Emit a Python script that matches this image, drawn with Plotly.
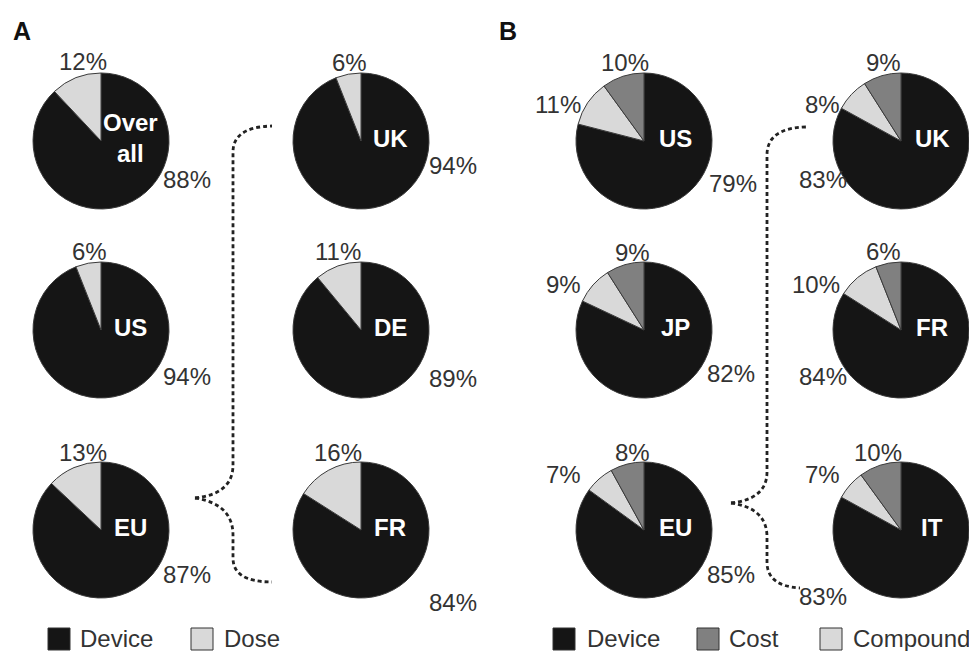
import plotly.graph_objects as go

W, H = 969, 651
R = 68

# ---------------- data ----------------
a_regions = ["Over<br>all", "US", "EU", "UK", "DE", "FR"]
a_device = [88, 94, 87, 94, 89, 84]
a_dose = [12, 6, 13, 6, 11, 16]

b_regions = ["US", "JP", "EU", "UK", "FR", "IT"]
b_device = [79, 82, 85, 83, 84, 83]
b_compound = [11, 9, 7, 8, 10, 7]
b_cost = [10, 9, 8, 9, 6, 10]

a_legend = ["Device", "Dose"]
b_legend = ["Device", "Cost", "Compound"]

# ---------------- styles / layout positions ----------------
colors = {"Device": "#151515", "Dose": "#d9d9d9", "Cost": "#808080", "Compound": "#d9d9d9"}
FONT = "Arial, Liberation Sans, sans-serif"
TXT = "#333333"

a_centers = [(101, 141), (101, 330), (101, 530), (361, 141), (361, 330), (361, 530)]
b_centers = [(644, 141), (644, 330), (644, 530), (901, 141), (901, 330), (901, 530)]

a_minor_off = [(-18, -80), (-12, -79), (-18, -78), (-12, -79), (-23, -79), (-23, -78)]
a_dev_off = [(86, 38), (86, 46), (86, 44), (92, 24), (92, 48), (92, 72)]

b_cost_off = [(-19, -79), (-12, -78), (-12, -78), (-18, -79), (-18, -79), (-23, -78)]
b_comp_off = [(-86, -37), (-81, -46), (-81, -56), (-79, -37), (-85, -46), (-79, -56)]
b_dev_off = [(89, 42), (87, 43), (87, 44), (-78, 38), (-78, 46), (-78, 66)]

a_legend_pos = [(48, 78), (191, 222)]
b_legend_pos = [(553, 585), (697, 727), (820, 851)]
LEG_Y = 638
SQ = 22


def dom(cx, cy):
    return dict(x=[max(0, (cx - R) / W), min(1, (cx + R) / W)],
                y=[max(0, 1 - (cy + R) / H), min(1, 1 - (cy - R) / H)])


fig = go.Figure()
# dummy cartesian trace so pixel-based axes exist for shapes/annotations
fig.add_trace(go.Scatter(x=[None], y=[None], showlegend=False, hoverinfo="skip"))

annotations = []


def ann(x, y, text, size=24, color=TXT, xanchor="center", bold=False):
    annotations.append(dict(x=x, y=y, xref="x", yref="y", text=f"<b>{text}</b>" if bold else text,
                            showarrow=False, xanchor=xanchor, yanchor="middle",
                            font=dict(family=FONT, size=size, color=color)))


line = dict(color="#3a3a3a", width=1)

for i, (cx, cy) in enumerate(a_centers):
    fig.add_trace(go.Pie(values=[a_device[i], a_dose[i]], labels=["Device", "Dose"],
                         marker=dict(colors=[colors["Device"], colors["Dose"]], line=line),
                         sort=False, direction="clockwise", textinfo="none",
                         hoverinfo="skip", showlegend=False, domain=dom(cx, cy)))
    ann(cx + 29, cy - 3, a_regions[i], size=24, color="white", bold=True)
    ann(cx + a_minor_off[i][0], cy + a_minor_off[i][1], f"{a_dose[i]}%")
    ann(cx + a_dev_off[i][0], cy + a_dev_off[i][1], f"{a_device[i]}%")

for i, (cx, cy) in enumerate(b_centers):
    fig.add_trace(go.Pie(values=[b_device[i], b_compound[i], b_cost[i]],
                         labels=["Device", "Compound", "Cost"],
                         marker=dict(colors=[colors["Device"], colors["Compound"], colors["Cost"]], line=line),
                         sort=False, direction="clockwise", textinfo="none",
                         hoverinfo="skip", showlegend=False, domain=dom(cx, cy)))
    ann(cx + 31, cy - 3, b_regions[i], size=24, color="white", bold=True)
    ann(cx + b_cost_off[i][0], cy + b_cost_off[i][1], f"{b_cost[i]}%")
    ann(cx + b_comp_off[i][0], cy + b_comp_off[i][1], f"{b_compound[i]}%")
    ann(cx + b_dev_off[i][0], cy + b_dev_off[i][1], f"{b_device[i]}%")

# panel letters
ann(22, 31, "A", size=25, color="#111", bold=True)
ann(508, 31, "B", size=25, color="#111", bold=True)

shapes = []
# legends
for names, pos in ((a_legend, a_legend_pos), (b_legend, b_legend_pos)):
    for name, (sx, tx) in zip(names, pos):
        shapes.append(dict(type="rect", xref="x", yref="y", x0=sx, x1=sx + SQ,
                           y0=LEG_Y - SQ / 2 + 1, y1=LEG_Y + SQ / 2 + 1,
                           fillcolor=colors[name], line=dict(color="#333", width=1)))
        ann(tx, LEG_Y, name, xanchor="left")

# dashed brace connectors
dash = dict(color="#222", width=2.8, dash="4px,3px")
paths = [
    "M 195,498 Q 233,494 233,465 L 233,152 Q 233,127 272,126",
    "M 195,498 Q 233,504 233,535 L 233,558 Q 233,582 272,582",
    "M 731,503 Q 767,499 767,472 L 767,155 Q 767,128 806,127",
    "M 731,503 Q 767,508 767,537 L 767,562 Q 767,586 800,588",
]
for p in paths:
    shapes.append(dict(type="path", xref="x", yref="y", path=p, line=dash))

fig.update_layout(
    width=W, height=H, margin=dict(l=0, r=0, t=0, b=0),
    paper_bgcolor="white", plot_bgcolor="white",
    xaxis=dict(range=[0, W], visible=False, fixedrange=True),
    yaxis=dict(range=[H, 0], visible=False, fixedrange=True),
    annotations=annotations, shapes=shapes, showlegend=False,
)

fig.write_html("out.html")
